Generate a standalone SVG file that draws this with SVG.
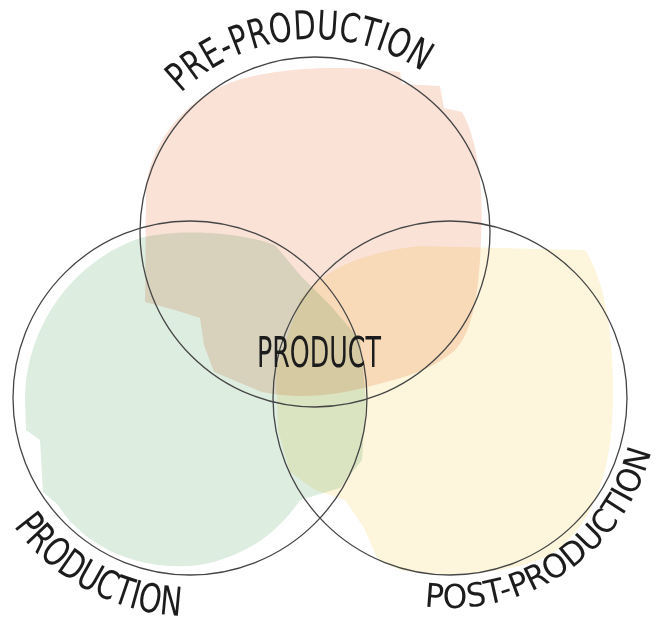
<svg xmlns="http://www.w3.org/2000/svg" width="662" height="626" viewBox="0 0 662 626">
  <style>
    .blob { mix-blend-mode: multiply; stroke: none; }
    .ring { fill: none; stroke: #454545; stroke-width: 1.3; }
    .lbl { font-family: "DejaVu Sans Condensed", "DejaVu Sans", "Liberation Sans Narrow", sans-serif; font-stretch: condensed; fill: #1c1c1c; }
  </style>
  <defs>
    <path id="arcPre" d="M 180.9,93.2 A 193 193 0 0 1 444.1,88.6"/>
    <path id="arcProd" d="M 13.6,526.1 A 218 218 0 0 0 186.2,616.0"/>
    <path id="arcPost" d="M 424.4,606.4 A 208 208 0 0 0 656,427"/>
  </defs>
  <rect width="662" height="626" fill="#ffffff"/>

  <g id="pre-production">
    <path class="blob" fill="#fae2d7" d="M 146,190 C 150,140 190,92 245,78 C 295,66 350,66 400,72 L 402,84 L 440,86 L 444,108 L 462,112 C 478,140 484,190 481,240 C 479,290 474,330 455,350 C 430,372 400,378 375,385 C 340,395 300,400 262,392 L 214,372 L 204,345 L 200,318 L 175,310 L 145,302 Z"/>
  </g>
  <g id="production">
    <path class="blob" fill="#ddede0" d="M 25,400 C 25,330 70,262 140,238 C 180,228 240,232 275,245 L 300,275 L 330,305 L 360,340 L 366,400 L 362,460 L 340,488 L 300,500 C 280,530 250,555 200,565 C 140,572 85,548 58,505 L 43,492 L 40,440 L 26,430 Z"/>
  </g>
  <g id="post-production">
    <path class="blob" fill="#fdf6dc" d="M 300,300 C 320,272 360,252 420,246 L 585,250 C 606,282 614,340 613,400 C 612,470 595,525 550,555 C 510,575 440,578 400,570 L 378,560 L 364,528 L 345,500 L 315,490 L 290,472 L 278,430 L 276,370 Z"/>
  </g>

  <g id="circles">
    <circle class="ring" cx="315" cy="232" r="175"/>
    <circle class="ring" cx="190" cy="398" r="177"/>
    <circle class="ring" cx="450" cy="398" r="177"/>
  </g>

  <g id="labels">
    <text class="lbl" font-size="40"><textPath href="#arcPre" textLength="262" lengthAdjust="spacingAndGlyphs">PRE-PRODUCTION</textPath></text>
    <text class="lbl" font-size="40"><textPath href="#arcProd" textLength="196" lengthAdjust="spacingAndGlyphs">PRODUCTION</textPath></text>
    <text class="lbl" font-size="33"><textPath href="#arcPost" textLength="300" lengthAdjust="spacingAndGlyphs">POST-PRODUCTION</textPath></text>
  </g>

  <g id="product">
    <text class="lbl" x="319" y="367" font-size="42" text-anchor="middle" textLength="124" lengthAdjust="spacingAndGlyphs">PRODUCT</text>
  </g>
</svg>
